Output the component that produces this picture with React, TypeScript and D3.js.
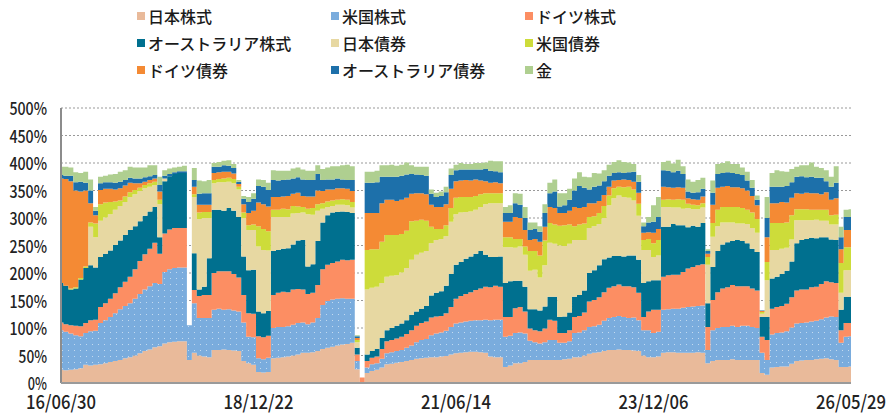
import React from 'react';
import * as d3 from 'd3';

// 資産クラス (積み上げ順：下から)
const assetNames = ['日本株式', '米国株式', 'ドイツ株式', 'オーストラリア株式', '日本債券', '米国債券', 'ドイツ債券', 'オーストラリア債券', '金'];
const assetColors = ['#e9ba9a', '#7aacdd', '#fc8e63', '#00708f', '#e7d8a2', '#cddc3a', '#f48a34', '#1d70aa', '#afcf90'];

const tickLabels = ['16/06/30', '18/12/22', '21/06/14', '23/12/06', '26/05/29'];
const tickIndex = [0, 40, 80, 120, 160];
const yTicks = [0, 50, 100, 150, 200, 250, 300, 350, 400, 450, 500];

// 各資産の比率 (%)
const jpStock = [
  24, 23, 24, 25, 27, 33, 32, 33, 34, 36,
  38, 40, 42, 45, 47, 50, 54, 58, 61, 65,
  67, 72, 74, 75, 76, 76, 42, 55, 50, 48,
  47, 60, 60, 61, 60, 59, 58, 40, 36, 33,
  20, 19, 20, 45, 46, 47, 48, 50, 52, 55,
  55, 56, 58, 62, 64, 66, 68, 70, 71, 73,
  25, 0, 18, 22, 24, 28, 34, 35, 37, 38,
  40, 42, 44, 45, 46, 47, 47, 48, 49, 52,
  54, 55, 56, 57, 57, 56, 55, 48, 47, 47,
  29, 32, 36, 36, 38, 42, 42, 42, 42, 42,
  42, 42, 43, 44, 47, 47, 50, 53, 55, 56,
  58, 60, 60, 61, 60, 60, 59, 58, 50, 47,
  47, 48, 55, 56, 56, 55, 55, 55, 55, 56,
  55, 36, 40, 42, 42, 42, 43, 42, 42, 42,
  42, 42, 18, 15, 28, 29, 30, 30, 35, 40,
  41, 42, 42, 43, 44, 45, 43, 42, 29, 29,
  30,
];
const usStock = [
  72, 70, 66, 62, 58, 58, 62, 62, 75, 78,
  82, 87, 92, 95, 98, 103, 108, 112, 115, 117,
  113, 130, 133, 134, 134, 134, 63, 90, 68, 70,
  71, 73, 75, 72, 74, 73, 72, 70, 48, 50,
  25, 24, 26, 55, 56, 55, 55, 56, 57, 55,
  52, 54, 60, 80, 85, 86, 85, 84, 82, 80,
  15, 0, 10, 12, 12, 16, 20, 21, 21, 22,
  24, 26, 30, 33, 34, 40, 43, 44, 46, 50,
  54, 55, 56, 56, 57, 58, 60, 66, 68, 68,
  55, 54, 55, 56, 52, 35, 32, 30, 32, 36,
  36, 31, 30, 32, 44, 45, 46, 49, 48, 50,
  55, 58, 60, 61, 60, 58, 60, 56, 46, 49,
  44, 45, 78, 78, 79, 80, 82, 83, 84, 84,
  86, 24, 56, 58, 60, 60, 61, 60, 62, 62,
  60, 58, 37, 27, 60, 62, 62, 64, 66, 68,
  68, 68, 70, 70, 72, 74, 78, 78, 44, 55,
  55,
];
const deStock = [
  14, 14, 15, 17, 18, 18, 20, 20, 29, 31,
  33, 36, 40, 44, 48, 54, 60, 64, 68, 73,
  55, 70, 72, 73, 72, 72, 0, 24, 40, 42,
  42, 67, 68, 70, 69, 66, 62, 50, 43, 43,
  40, 40, 40, 60, 62, 64, 62, 64, 62, 60,
  55, 54, 60, 65, 66, 66, 68, 70, 70, 71,
  12, 10, 12, 12, 12, 18, 22, 22, 23, 24,
  25, 28, 30, 31, 32, 32, 31, 30, 32, 36,
  45, 48, 50, 52, 55, 58, 60, 60, 62, 60,
  36, 34, 45, 46, 40, 22, 22, 22, 25, 37,
  35, 18, 18, 20, 29, 30, 32, 46, 48, 50,
  52, 55, 56, 57, 56, 58, 55, 50, 24, 34,
  42, 40, 60, 62, 62, 62, 65, 70, 72, 74,
  75, 42, 55, 65, 70, 72, 74, 74, 72, 72,
  70, 68, 29, 36, 47, 47, 48, 50, 55, 60,
  61, 60, 62, 62, 64, 66, 62, 62, 23, 25,
  24,
];
const auStock = [
  72, 70, 65, 68, 85, 100, 100, 95, 91, 90,
  88, 88, 85, 85, 85, 78, 72, 70, 68, 65,
  30, 95, 97, 98, 100, 100, 0, 67, 12, 15,
  67, 115, 112, 110, 115, 115, 110, 70, 78, 80,
  45, 44, 45, 80, 78, 78, 80, 82, 88, 90,
  50, 52, 80, 85, 90, 92, 90, 88, 88, 85,
  12, 0, 12, 12, 14, 20, 20, 22, 23, 24,
  25, 28, 26, 26, 28, 40, 43, 45, 50, 60,
  62, 62, 64, 65, 66, 68, 58, 55, 52, 55,
  62, 65, 50, 48, 45, 35, 38, 38, 40, 42,
  44, 29, 30, 32, 37, 38, 40, 52, 54, 58,
  60, 55, 55, 52, 54, 56, 58, 60, 62, 55,
  54, 54, 91, 88, 92, 90, 85, 75, 75, 70,
  75, 43, 60, 75, 80, 82, 80, 84, 82, 78,
  72, 70, 36, 42, 55, 55, 58, 60, 65, 86,
  90, 92, 90, 88, 85, 80, 78, 78, 37, 48,
  48,
];
const jpBond = [
  0, 0, 0, 0, 0, 0, 70, 55, 66, 66,
  66, 64, 63, 60, 60, 58, 55, 50, 45, 40,
  60, 5, 0, 0, 0, 0, 0, 102, 128, 125,
  73, 48, 50, 52, 48, 50, 50, 70, 73, 72,
  118, 115, 110, 62, 60, 58, 57, 56, 50, 50,
  95, 90, 55, 25, 15, 12, 13, 12, 12, 10,
  10, 0, 118, 115, 113, 100, 97, 95, 92, 93,
  95, 100, 103, 102, 100, 95, 96, 95, 90, 95,
  92, 90, 85, 82, 80, 80, 92, 98, 98, 97,
  65, 62, 60, 62, 58, 70, 72, 60, 75, 98,
  96, 130, 128, 125, 103, 100, 92, 82, 80, 75,
  75, 95, 105, 110, 108, 105, 100, 80, 60, 57,
  42, 45, 36, 36, 30, 32, 30, 35, 30, 32,
  28, 70, 55, 45, 40, 36, 34, 30, 32, 35,
  38, 35, 6, 67, 52, 49, 46, 42, 40, 42,
  36, 34, 32, 34, 30, 30, 27, 28, 31, 48,
  48,
];
const usBond = [
  0, 0, 2, 2, 3, 3, 8, 25, 30, 27,
  22, 15, 10, 10, 9, 8, 6, 6, 6, 6,
  8, 0, 0, 0, 0, 0, 0, 5, 12, 11,
  11, 6, 6, 7, 7, 8, 5, 10, 9, 10,
  37, 38, 35, 13, 13, 15, 14, 14, 12, 10,
  10, 12, 12, 10, 10, 10, 9, 10, 10, 10,
  4, 0, 72, 70, 68, 75, 76, 74, 73, 70,
  68, 70, 62, 60, 55, 30, 20, 18, 20, 25,
  30, 28, 27, 26, 25, 23, 20, 18, 18, 18,
  18, 18, 16, 14, 15, 36, 34, 40, 45, 36,
  35, 36, 38, 35, 25, 28, 30, 20, 18, 20,
  22, 18, 18, 16, 18, 20, 20, 22, 18, 20,
  25, 28, 13, 14, 14, 15, 16, 8, 8, 7,
  8, 14, 25, 30, 28, 28, 28, 30, 28, 26,
  28, 25, 3, 33, 49, 49, 47, 46, 44, 20,
  20, 20, 19, 18, 20, 20, 17, 18, 54, 42,
  42,
];
const deBond = [
  190, 194, 195, 176, 157, 138, 35, 15, 26, 25,
  24, 22, 22, 20, 17, 12, 8, 6, 6, 6,
  15, 0, 0, 0, 0, 0, 0, 14, 14, 13,
  13, 13, 12, 12, 11, 10, 5, 15, 22, 25,
  43, 45, 45, 23, 23, 22, 24, 22, 25, 20,
  22, 21, 25, 22, 22, 20, 21, 20, 20, 20,
  4, 0, 67, 66, 66, 70, 64, 64, 62, 62,
  60, 50, 50, 48, 48, 40, 40, 40, 38, 35,
  30, 30, 31, 30, 30, 25, 22, 19, 20, 18,
  28, 28, 40, 38, 30, 20, 22, 25, 25, 29,
  30, 23, 22, 25, 35, 30, 30, 25, 24, 22,
  20, 16, 14, 12, 14, 12, 14, 20, 13, 12,
  19, 20, 24, 22, 22, 22, 22, 10, 10, 10,
  12, 6, 33, 40, 37, 38, 36, 36, 36, 35,
  30, 25, 2, 45, 36, 36, 38, 36, 32, 29,
  28, 30, 30, 30, 28, 32, 28, 30, 25, 31,
  31,
];
const auBond = [
  6, 6, 10, 15, 18, 14, 23, 8, 12, 12,
  12, 12, 12, 10, 9, 9, 9, 8, 7, 6,
  12, 5, 4, 3, 3, 3, 0, 12, 20, 21,
  21, 11, 10, 12, 11, 10, 4, 10, 20, 22,
  30, 32, 30, 31, 30, 30, 30, 28, 28, 30,
  30, 30, 30, 20, 18, 18, 18, 16, 16, 20,
  3, 0, 55, 55, 56, 48, 42, 42, 44, 44,
  42, 36, 34, 33, 34, 20, 18, 20, 22, 25,
  20, 20, 19, 20, 18, 20, 22, 22, 20, 20,
  16, 16, 25, 24, 22, 18, 18, 18, 25, 25,
  30, 12, 14, 20, 30, 40, 35, 25, 30, 28,
  25, 20, 14, 14, 12, 14, 18, 20, 12, 18,
  20, 22, 30, 30, 28, 30, 25, 12, 12, 14,
  14, 5, 22, 25, 25, 25, 26, 24, 24, 18,
  15, 10, 1, 35, 30, 30, 28, 30, 28, 30,
  32, 28, 30, 28, 30, 20, 24, 28, 22, 24,
  24,
];
const gold = [
  15, 16, 15, 18, 16, 20, 20, 7, 12, 12,
  14, 16, 18, 18, 20, 20, 20, 18, 20, 18,
  15, 10, 10, 9, 8, 10, 0, 22, 24, 22,
  24, 7, 9, 8, 10, 7, 3, 5, 9, 10,
  12, 12, 13, 18, 18, 17, 16, 18, 18, 18,
  17, 17, 16, 20, 22, 24, 22, 26, 28, 25,
  2, 0, 20, 20, 21, 21, 21, 22, 20, 20,
  22, 16, 14, 15, 16, 8, 8, 8, 10, 12,
  10, 12, 10, 10, 12, 12, 12, 18, 18, 20,
  11, 14, 18, 20, 20, 14, 12, 10, 16, 19,
  22, 24, 22, 20, 22, 25, 20, 22, 25, 22,
  20, 20, 20, 22, 20, 18, 14, 12, 7, 10,
  30, 36, 15, 18, 16, 20, 14, 22, 20, 22,
  20, 3, 22, 18, 18, 20, 16, 18, 14, 16,
  14, 8, 0, 38, 25, 30, 28, 26, 24, 18,
  20, 22, 26, 20, 18, 20, 18, 30, 19, 13,
  14,
];

const seriesValues = [jpStock, usStock, deStock, auStock, jpBond, usBond, deBond, auBond, gold];

const fontJP = '"Noto Sans CJK JP", "Noto Sans", sans-serif';

export default function App() {
  const width = 888;
  const height = 415;
  const margin = { top: 108, right: 37, bottom: 32, left: 61 };

  const rows = jpStock.map((_, i) => {
    const r: Record<string, number> = {};
    assetNames.forEach((k, j) => (r[k] = seriesValues[j][i]));
    return r;
  });
  const stacked = d3.stack<Record<string, number>>().keys(assetNames)(rows);

  const x = d3.scaleLinear().domain([0, jpStock.length - 1]).range([margin.left, width - margin.right]);
  const y = d3.scaleLinear().domain([0, 500]).range([height - margin.bottom, margin.top]);

  const area = d3
    .area<d3.SeriesPoint<Record<string, number>>>()
    .x((d, i) => x(i))
    .y0(d => y(d[0]))
    .y1(d => y(d[1]))
    .curve(d3.curveStep);

  // legend: 3 columns x 3 rows
  const legendCols = [137, 331, 525];
  const legendRows = [16, 43, 70];

  const yLabelWidth = (s: string) => (s.length - 1) * 9.2 + 10;

  return (
    <svg width={width} height={height} style={{ position: 'absolute', left: 0, top: 0, background: '#fff' }}>
      <defs>
        <pattern id="usDots" width="6" height="6" patternUnits="userSpaceOnUse">
          <rect width="6" height="6" fill={assetColors[1]} />
          <rect x="2" y="2" width="1" height="1" fill="#ffffff" opacity="0.55" />
        </pattern>
      </defs>

      {/* grid */}
      {yTicks.filter(t => t > 0).map(t => (
        <line key={t} x1={margin.left} x2={width - margin.right} y1={y(t)} y2={y(t)}
          stroke="#999" strokeWidth={1} strokeDasharray="2,2" />
      ))}

      {/* stacked areas */}
      {stacked.map((s, i) => (
        <path key={s.key} d={area(s) || ''} fill={i === 1 ? 'url(#usDots)' : assetColors[i]} />
      ))}

      {/* axes */}
      <line x1={margin.left} x2={margin.left} y1={y(500)} y2={y(0)} stroke="#8c8c8c" strokeWidth={2} />
      <line x1={margin.left} x2={width - margin.right} y1={y(0)} y2={y(0)} stroke="#9a9a9a" strokeWidth={2} />

      {yTicks.map(t => {
        const s = `${t}%`;
        return (
          <text key={t} x={47} y={y(t) + 7} textAnchor="end" fontFamily={fontJP} fontSize={17} fontWeight={500}
            fill="#222" textLength={yLabelWidth(s)} lengthAdjust="spacingAndGlyphs">{s}</text>
        );
      })}

      {tickIndex.map((ti, k) => (
        <text key={ti} x={x(ti)} y={409} textAnchor="middle" fontFamily={fontJP} fontSize={19} fontWeight={500}
          fill="#222" textLength={70} lengthAdjust="spacingAndGlyphs">{tickLabels[k]}</text>
      ))}

      {/* legend */}
      {assetNames.map((name, i) => {
        const cx = legendCols[i % 3];
        const cy = legendRows[Math.floor(i / 3)];
        return (
          <g key={name}>
            <rect x={cx} y={cy - 4} width={8} height={8} fill={assetColors[i]} />
            <text x={cx + 11} y={cy} dominantBaseline="central" fontFamily={fontJP} fontSize={16}
              fontWeight={500} fill="#1a1a1a">{name}</text>
          </g>
        );
      })}
    </svg>
  );
}
